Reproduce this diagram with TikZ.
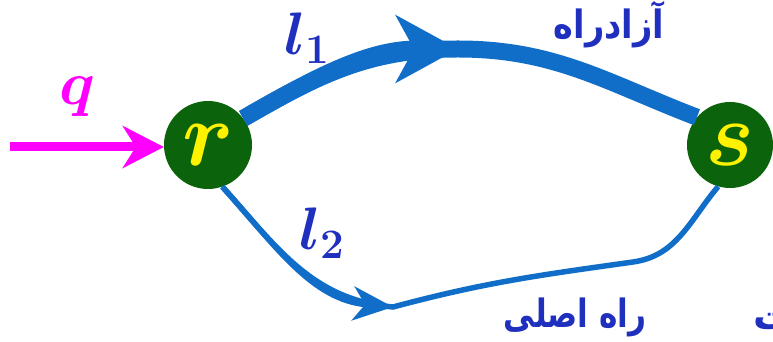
\RequirePackage{fix-cm}
\documentclass[tikz,border=0pt]{standalone}
\usepackage{fontspec}
\usepackage{bm}
\newfontfamily\persianfont[Script=Arabic]{DejaVu Sans}
\TeXXeTstate=1
\usetikzlibrary{arrows.meta}

\definecolor{roadblue}{RGB}{16,110,200}
\definecolor{citygreen}{RGB}{11,100,11}
\definecolor{labelblue}{RGB}{32,48,190}
\definecolor{inflow}{RGB}{255,0,255}

\begin{document}
\begin{tikzpicture}[x=1pt, y=1pt,
    city/.style={circle, fill=citygreen, inner sep=0pt, minimum size=88pt,
      text=yellow, font=\fontsize{92}{92}\selectfont},
    road/.style={roadblue, line cap=butt},
    tag/.style={text=labelblue, inner sep=0pt, font=\fontsize{60}{60}\selectfont},
    fatag/.style={text=labelblue, inner sep=0pt, font=\fontsize{39}{42}\selectfont\persianfont\bfseries}]

    \useasboundingbox (0,0) rectangle (773,342);

    % 1. The two towns r and s
    \node[city] (r) at (208,197) {$\bm{r}$};
    \node[city, minimum size=86pt] (s) at (730,197) {$\bm{s}$};

    % 2. Named points on the roads
    \coordinate (qin) at (10,195);
    \coordinate (hwtop) at (458,293);    % tip of the highway arrow
    \coordinate (mainmid) at (393,35);   % tip of the main road arrow
    \coordinate (mainbend) at (633,80);

    % 3. Highway l1 (thick) and main road l2 (thin), arrow drawn over the road
    \draw[road, line width=17pt] (r.37) to[out=30, in=180] (hwtop)
        to[out=0, in=159] (s.140);
    \draw[road, line width=17pt, -{Stealth[length=62pt, width=67pt, inset=18pt]}]
        (r.37) to[out=30, in=180] (hwtop);

    \draw[road, line width=5.5pt] (r.-71) to[out=-48, in=175] (mainmid)
        to[out=15, in=188] (mainbend) to[out=8, in=-130] (s.-106);
    \draw[road, line width=5.5pt, -{Stealth[length=40pt, width=34pt, inset=12pt]}]
        (r.-71) to[out=-48, in=175] (mainmid);

    % 4. Inflow q
    \draw[inflow, line width=9pt, -{Stealth[length=41pt, width=42pt, inset=13pt]}]
        (qin) -- (qin -| r.west);

    % 5. Labels
    \node[text=inflow, inner sep=0pt, anchor=base, font=\fontsize{62}{62}\selectfont]
        (qlabel) at (77,237) {$\bm{q}$};
    \node[tag, anchor=base west] (l1) at (284,287) {$\bm{l_1}$};
    \node[tag, anchor=base west] (l2) at (299,92) {$\bm{l_2}$};
    \node[fatag] (hwname) at (609,317) {\scalebox{0.86}[1]{\beginR آزادراه\endR}};
    \node[fatag] (mainname) at (575,25) {\scalebox{0.8}[1]{\beginR راه اصلی\endR}};
    \node[fatag, anchor=base west] (cut) at (753,12) {\beginR ت\endR};

\end{tikzpicture}
\end{document}
